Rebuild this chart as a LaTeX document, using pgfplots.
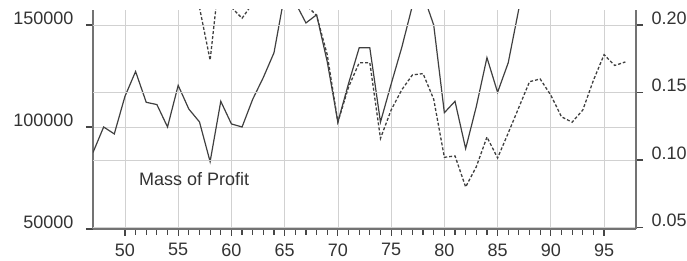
\documentclass[border=0pt]{standalone}
\usepackage{fontspec}
\setmainfont{Liberation Sans}
\usepackage{pgfplots}
\pgfplotsset{compat=1.18}
\definecolor{tickc}{RGB}{70,70,70}
\pgfplotsset{
  common/.style={
    at={(93pt,32pt)}, anchor=south west,
    scale only axis, width=543pt, height=219pt,
    xmin=47, xmax=98,
    /pgf/number format/assume math mode=true,
    ticklabel style={font=\fontsize{18}{20}\selectfont, text=black!80},
    axis line style={black!55, line width=1.3pt},
    grid style={black!18, line width=0.7pt},
    tick align=outside,
    tickwidth=7pt, subtickwidth=6pt,
    every tick/.append style={tickc, line width=1.2pt},
  }
}
\begin{document}
\begin{tikzpicture}
\path[use as bounding box] (0,0) rectangle (687pt,261pt);
\begin{axis}[common,
  ymin=50000, ymax=157350,
  axis x line*=bottom, axis y line*=left,
  xtick={50,55,...,95}, minor x tick num=4,
  ytick={50000,100000,150000},
  scaled y ticks=false,
  xticklabel style={yshift=-4pt},
  yticklabel style={yshift=7pt, xshift=-9pt, /pgf/number format/fixed, /pgf/number format/precision=0, /pgf/number format/set thousands separator={}},
  xmajorgrids, ymajorgrids,
]
\addplot[black!75, line width=1.2pt] coordinates {
(47,87500) (48,100000) (49,96600) (50,115000) (51,127200) (52,112100)
(53,111000) (54,100000) (55,120400) (56,108800) (57,102500) (58,83000)
(59,112600) (60,101500) (61,100000) (62,113600) (63,124300) (64,136400)
(65,165000) (66,161000) (67,151000) (68,155000) (69,132000) (70,102400)
(71,121300) (72,138800) (73,138800) (74,102400) (75,121000) (76,139000)
(77,159500) (78,165000) (79,150000) (80,107000) (81,112600) (82,89400)
(83,110000) (84,134000) (85,117000) (86,131500) (87,158000) (88,175000)
};
\node[font=\fontsize{18}{20}\selectfont, text=black!80] at (axis cs:56.5,74500) {Mass of Profit};
\end{axis}
\begin{axis}[common,
  ymin=0.0489, ymax=0.2111,
  axis x line=none, axis y line*=right,
  ytick={0.05,0.10,0.15,0.20},
  yticklabel style={yshift=7pt, xshift=5pt, /pgf/number format/fixed, /pgf/number format/fixed zerofill, /pgf/number format/precision=2},
  ymajorgrids,
]
\addplot[black!75, line width=1.3pt, dash pattern=on 3pt off 2pt] coordinates {
(55,0.25) (56,0.24) (57,0.213) (58,0.174) (59,0.245) (60,0.213) (61,0.205)
(62,0.216) (63,0.24) (64,0.25) (65,0.24) (66,0.23) (67,0.215) (68,0.207)
(69,0.178) (70,0.128) (71,0.154) (72,0.172) (73,0.172) (74,0.116) (75,0.137)
(76,0.152) (77,0.163) (78,0.164) (79,0.145) (80,0.102) (81,0.103) (82,0.080)
(83,0.095) (84,0.117) (85,0.1015) (86,0.120) (87,0.139) (88,0.158) (89,0.160)
(90,0.148) (91,0.132) (92,0.128) (93,0.137) (94,0.159) (95,0.178) (96,0.170)
(97,0.1726)
};
\end{axis}
\end{tikzpicture}
\end{document}
